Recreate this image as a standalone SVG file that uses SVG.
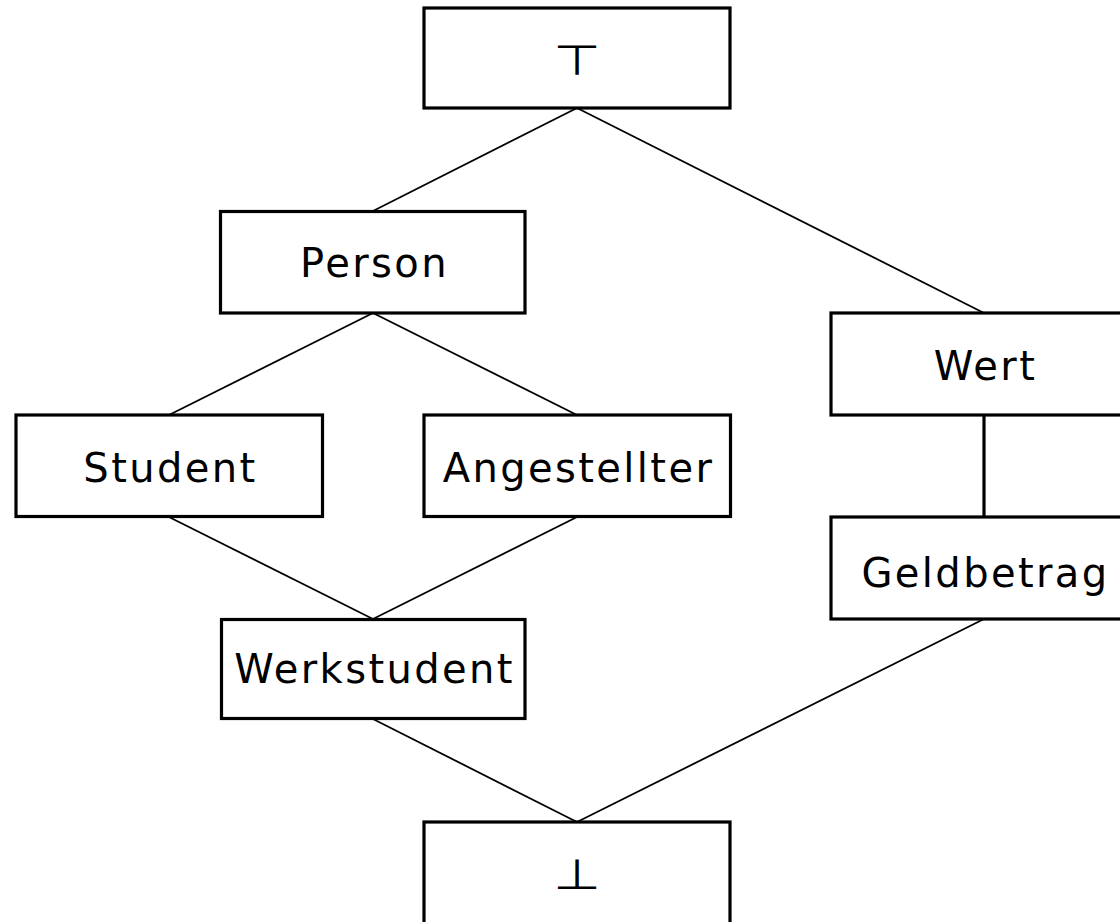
<svg xmlns="http://www.w3.org/2000/svg" width="1120" height="922" viewBox="0 0 1120 922">
<style>
.box{fill:#fff;stroke:#000;stroke-width:3.2}
.lbl{font-family:"DejaVu Sans",sans-serif;font-size:40px;letter-spacing:2.4px;text-anchor:middle;fill:#000}
.sym{font-family:"DejaVu Sans",sans-serif;font-size:42px;text-anchor:middle;fill:#000}
.edge{stroke:#000;stroke-width:1.8;fill:none}
</style>
<rect width="1120" height="922" fill="#fff"/>
<g id="connectors">
<line class="edge" x1="577" y1="108" x2="373" y2="211"/>
<line class="edge" x1="577" y1="108" x2="984" y2="313"/>
<line class="edge" x1="373" y1="313" x2="169" y2="415"/>
<line class="edge" x1="373" y1="313" x2="577" y2="415"/>
<line class="edge" x1="169" y1="517" x2="373" y2="619"/>
<line class="edge" x1="577" y1="517" x2="373" y2="619"/>
<line class="edge" x1="984" y1="415" x2="984" y2="517" style="stroke-width:3.2"/>
<line class="edge" x1="984" y1="619" x2="577" y2="822"/>
<line class="edge" x1="373" y1="719" x2="577" y2="822"/>
</g>
<g id="top"><rect class="box" x="424" y="8" width="306" height="100"/><text class="sym" transform="translate(577,75) scale(1.3,1)">⊤</text></g>
<g id="person"><rect class="box" x="220.5" y="211.5" width="304.5" height="101.5"/><text class="lbl" x="374.5" y="277.3">Person</text></g>
<g id="wert"><rect class="box" x="831" y="313" width="306" height="102"/><text class="lbl" x="985.5" y="380">Wert</text></g>
<g id="student"><rect class="box" x="16" y="415" width="306.5" height="101.5"/><text class="lbl" x="170.5" y="481.7">Student</text></g>
<g id="angestellter"><rect class="box" x="424" y="415" width="306.5" height="101.5"/><text class="lbl" x="578.5" y="481.7">Angestellter</text></g>
<g id="geldbetrag"><rect class="box" x="831" y="517" width="306" height="102"/><text class="lbl" x="985.5" y="587">Geldbetrag</text></g>
<g id="werkstudent"><rect class="box" x="221.5" y="619.5" width="303.5" height="99"/><text class="lbl" x="374.5" y="682.7">Werkstudent</text></g>
<g id="bottom"><rect class="box" x="424" y="822" width="306" height="110"/><text class="sym" transform="translate(577,889) scale(1.3,1)">⊥</text></g>
</svg>
